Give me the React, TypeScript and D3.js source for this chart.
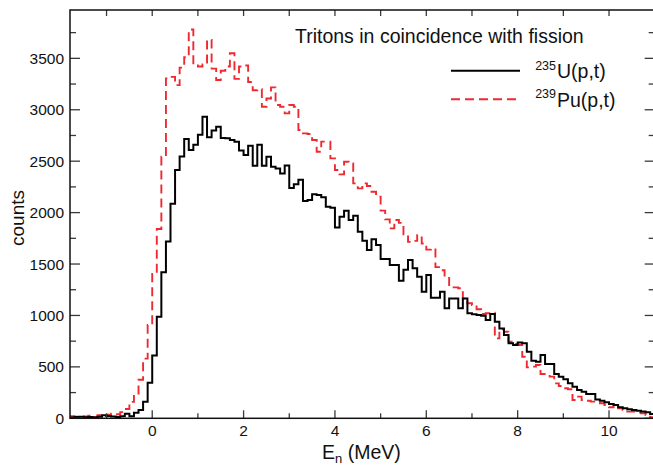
import React from "react";
import * as d3 from "d3";

const binStart = -1.8;
const binWidth = 0.1;

// 235U(p,t) counts per 0.1 MeV bin, from -1.8 MeV
const uCounts = [
  8, 12, 15, 10, 12, 8, 14, 30, 22, 18,
  12, 20, 45, 20, 55, 80, 160, 345, 610, 988,
  1420, 1720, 2085, 2415, 2545, 2715, 2608, 2660, 2758, 2933,
  2732, 2798, 2835, 2725, 2722, 2705, 2690, 2605, 2560, 2650,
  2455, 2660, 2455, 2544, 2446, 2430, 2381, 2458, 2240, 2276,
  2320, 2112, 2122, 2178, 2171, 2150, 2058, 2048, 1854, 1960,
  2019, 1928, 1970, 1815, 1727, 1636, 1740, 1685, 1549, 1549,
  1491, 1491, 1338, 1445, 1539, 1458, 1377, 1231, 1393, 1173,
  1173, 1231, 1069, 1166, 1166, 1069, 1166, 1021, 1011, 1004,
  998, 956, 1014, 939, 874, 810, 729, 713, 736, 729,
  648, 560, 551, 615, 528, 528, 431, 405, 379, 340,
  307, 275, 259, 236, 236, 184, 171, 155, 139, 130,
  107, 97, 87, 81, 74, 65, 58, 42,
];

// 239Pu(p,t) counts per 0.1 MeV bin, from -1.8 MeV
const puCounts = [
  20, 15, 10, 18, 25, 12, 30, 20, 35, 45,
  40, 60, 90, 160, 240, 375, 580, 907, 1403, 1840,
  2544, 3305, 3320, 3240, 3410, 3510, 3780, 3430, 3420, 3440,
  3680, 3400, 3290, 3380, 3420, 3550, 3300, 3420, 3430, 3270,
  3190, 3200, 3030, 3110, 3218, 3046, 3030, 2965, 3046, 3030,
  2803, 2770, 2764, 2706, 2592, 2690, 2690, 2527, 2414, 2372,
  2495, 2479, 2284, 2236, 2284, 2259, 2203, 2155, 2019, 1934,
  1847, 1928, 1900, 1790, 1715, 1725, 1780, 1700, 1640, 1650,
  1470, 1440, 1377, 1273, 1273, 1264, 1166, 1118, 1102, 1060,
  1014, 1021, 1027, 777, 865, 842, 745, 722, 713, 599,
  495, 502, 518, 431, 431, 405, 340, 314, 292, 282,
  178, 211, 178, 171, 162, 152, 146, 130, 107, 136,
  97, 81, 65, 65, 55, 49, 32, 10,
];

const xMajorTicks = [0, 2, 4, 6, 8, 10];
const xMinorTicks = [-1, 1, 3, 5, 7, 9];
const yMajorTicks = [0, 500, 1000, 1500, 2000, 2500, 3000, 3500];
const yMinorTicks = [250, 750, 1250, 1750, 2250, 2750, 3250, 3750];

const titleText = "Tritons in coincidence with fission";
const legendItems = [
  { sup: "235", main: "U(p,t)", color: "#000000", dash: "none" },
  { sup: "239", main: "Pu(p,t)", color: "#ee2a30", dash: "9,5" },
];

const W = 653;
const H = 470;
const left = 70;
const right = 654.7;
const top = 10;
const bottom = 418.3;
const font = "'Liberation Sans', Arial, Helvetica, sans-serif";

export default function App() {
  const x = d3.scaleLinear().domain([-1.8, 11]).range([left, right]);
  const y = d3.scaleLinear().domain([0, 3970]).range([bottom, top]);

  const stepPath = (vals: number[]) => {
    const pts: [number, number][] = vals.map((v, i) => [binStart + i * binWidth, v]);
    pts.push([binStart + vals.length * binWidth, vals[vals.length - 1]]);
    return d3
      .line<[number, number]>()
      .x((d) => x(d[0]))
      .y((d) => y(d[1]))
      .curve(d3.curveStepAfter)(pts) as string;
  };

  const tickColor = "#3a3a3a";

  return (
    <svg
      width={W}
      height={H}
      style={{ position: "absolute", left: 0, top: 0, background: "#fff" }}
      fontFamily={font}
    >
      <defs>
        <clipPath id="plotclip">
          <rect x={left} y={top} width={right - left} height={bottom - top} />
        </clipPath>
      </defs>

      {/* histograms */}
      <g clipPath="url(#plotclip)">
        <path
          d={stepPath(puCounts)}
          fill="none"
          stroke="#ee2a30"
          strokeWidth={1.9}
          strokeDasharray="9,5"
        />
        <path d={stepPath(uCounts)} fill="none" stroke="#000" strokeWidth={2} />
      </g>

      {/* ticks */}
      {xMajorTicks.map((t) => (
        <g key={"xM" + t}>
          <line x1={x(t)} x2={x(t)} y1={bottom} y2={bottom - 8} stroke={tickColor} strokeWidth={1.3} />
          <line x1={x(t)} x2={x(t)} y1={top} y2={top + 6} stroke={tickColor} strokeWidth={1.3} />
          <text x={x(t)} y={436} textAnchor="middle" fontSize={15.5} fill="#111">
            {t}
          </text>
        </g>
      ))}
      {xMinorTicks.map((t) => (
        <g key={"xm" + t}>
          <line x1={x(t)} x2={x(t)} y1={bottom} y2={bottom - 5} stroke={tickColor} strokeWidth={1.3} />
          <line x1={x(t)} x2={x(t)} y1={top} y2={top + 6} stroke={tickColor} strokeWidth={1.3} />
        </g>
      ))}
      {yMajorTicks.map((t) => (
        <g key={"yM" + t}>
          <line x1={left} x2={left + 10} y1={y(t)} y2={y(t)} stroke={tickColor} strokeWidth={1.3} />
          <line x1={right} x2={right - 10} y1={y(t)} y2={y(t)} stroke={tickColor} strokeWidth={1.3} />
          <text x={64} y={y(t)} dy="0.36em" textAnchor="end" fontSize={15.5} fill="#111">
            {t}
          </text>
        </g>
      ))}
      {yMinorTicks.map((t) => (
        <g key={"ym" + t}>
          <line x1={left} x2={left + 6} y1={y(t)} y2={y(t)} stroke={tickColor} strokeWidth={1.3} />
          <line x1={right} x2={right - 6} y1={y(t)} y2={y(t)} stroke={tickColor} strokeWidth={1.3} />
        </g>
      ))}

      {/* frame */}
      <rect
        x={left}
        y={top}
        width={right - left}
        height={bottom - top}
        fill="none"
        stroke="#111"
        strokeWidth={1.5}
      />

      {/* title and legend */}
      <text x={295} y={43.3} fontSize={19.5} fill="#111">
        {titleText}
      </text>
      {legendItems.map((it, i) => {
        const ly = 70.7 + i * 28.6;
        return (
          <g key={it.sup}>
            <line
              x1={451}
              x2={520}
              y1={ly}
              y2={ly}
              stroke={it.color}
              strokeWidth={2}
              strokeDasharray={it.dash}
            />
            <text x={556} y={ly - 1} textAnchor="end" fontSize={12.5} fill="#111">
              {it.sup}
            </text>
            <text x={557} y={ly + 7.6} fontSize={19.5} fill="#111">
              {it.main}
            </text>
          </g>
        );
      })}

      {/* axis labels */}
      <text x={322} y={459} fontSize={19.5} fill="#111">
        E
        <tspan fontSize={13} dy={4}>
          n
        </tspan>
        <tspan dy={-4}> (MeV)</tspan>
      </text>
      <text
        transform={`translate(${23.5},${218}) rotate(-90)`}
        textAnchor="middle"
        fontSize={19}
        fill="#111"
      >
        counts
      </text>
    </svg>
  );
}
